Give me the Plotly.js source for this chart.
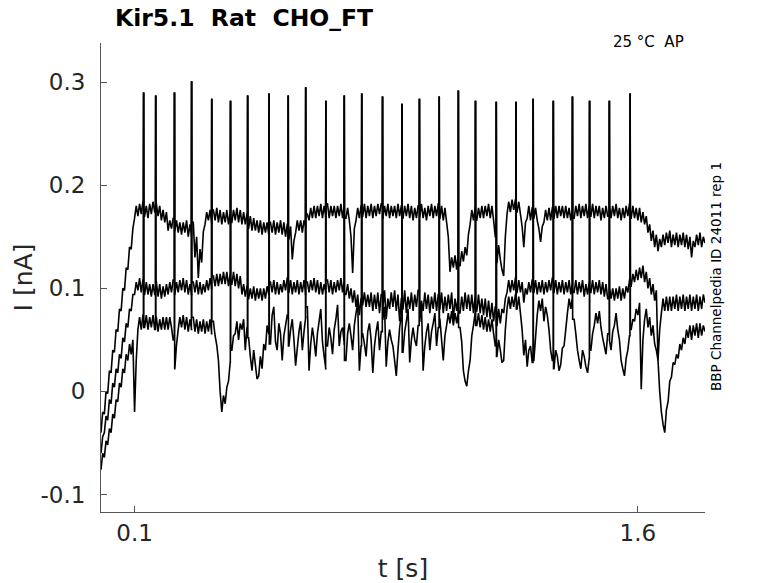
<!DOCTYPE html>
<html>
<head>
<meta charset="utf-8">
<script src="https://cdn.plot.ly/plotly-3.0.1.min.js"></script>
<style>
  html, body { margin: 0; padding: 0; background: #ffffff; }
  #chart { width: 778px; height: 583px; }
</style>
</head>
<body>
<div id="chart"></div>
<script>
// sweeps sampled every 5 ms, t = 0 .. 1.80 s, current in nA (20 samples per row = 0.1 s)
const dt = 0.005;

const sweep1 = [
  -0.040, -0.020, -0.022, 0.000, -0.002, 0.020, 0.018, 0.040, 0.038, 0.060, 0.058, 0.080, 0.078, 0.100, 0.098, 0.120, 0.118, 0.140, 0.138, 0.158,
  0.168, 0.180, 0.170, 0.182, 0.172, 0.184, 0.170, 0.180, 0.168, 0.182, 0.172, 0.184, 0.174, 0.182, 0.170, 0.180, 0.166, 0.176, 0.164, 0.174,
  0.156, 0.166, 0.158, 0.168, 0.156, 0.166, 0.154, 0.164, 0.152, 0.164, 0.154, 0.166, 0.150, 0.162, 0.152, 0.164, 0.130, 0.150, 0.110, 0.138,
  0.125, 0.155, 0.162, 0.174, 0.166, 0.176, 0.164, 0.176, 0.166, 0.178, 0.164, 0.176, 0.162, 0.174, 0.164, 0.176, 0.162, 0.174, 0.164, 0.176,
  0.166, 0.178, 0.164, 0.176, 0.162, 0.174, 0.162, 0.172, 0.158, 0.170, 0.156, 0.168, 0.156, 0.166, 0.154, 0.166, 0.152, 0.164, 0.154, 0.164,
  0.152, 0.164, 0.154, 0.166, 0.152, 0.164, 0.154, 0.166, 0.152, 0.164, 0.150, 0.162, 0.148, 0.160, 0.128, 0.146, 0.154, 0.166, 0.156, 0.166,
  0.154, 0.166, 0.160, 0.172, 0.166, 0.178, 0.168, 0.180, 0.168, 0.180, 0.170, 0.182, 0.168, 0.180, 0.170, 0.182, 0.168, 0.180, 0.170, 0.180,
  0.168, 0.180, 0.170, 0.182, 0.168, 0.180, 0.168, 0.178, 0.166, 0.150, 0.115, 0.158, 0.166, 0.178, 0.168, 0.180, 0.170, 0.182, 0.168, 0.180,
  0.170, 0.182, 0.168, 0.180, 0.170, 0.182, 0.172, 0.182, 0.168, 0.180, 0.170, 0.182, 0.168, 0.180, 0.170, 0.180, 0.168, 0.182, 0.170, 0.180,
  0.168, 0.180, 0.170, 0.182, 0.168, 0.180, 0.166, 0.178, 0.168, 0.180, 0.170, 0.182, 0.168, 0.178, 0.166, 0.180, 0.170, 0.182, 0.168, 0.180,
  0.170, 0.182, 0.168, 0.180, 0.166, 0.178, 0.164, 0.150, 0.116, 0.130, 0.120, 0.132, 0.118, 0.134, 0.122, 0.136, 0.126, 0.140, 0.132, 0.152,
  0.162, 0.176, 0.166, 0.178, 0.166, 0.178, 0.168, 0.180, 0.168, 0.180, 0.170, 0.182, 0.168, 0.180, 0.166, 0.150, 0.125, 0.142, 0.128, 0.118,
  0.112, 0.150, 0.172, 0.184, 0.174, 0.186, 0.176, 0.186, 0.174, 0.184, 0.172, 0.160, 0.140, 0.164, 0.168, 0.180, 0.166, 0.178, 0.168, 0.178,
  0.166, 0.158, 0.145, 0.160, 0.164, 0.176, 0.166, 0.178, 0.166, 0.178, 0.168, 0.180, 0.168, 0.180, 0.170, 0.180, 0.168, 0.180, 0.168, 0.178,
  0.166, 0.178, 0.168, 0.180, 0.170, 0.182, 0.168, 0.180, 0.170, 0.182, 0.168, 0.180, 0.170, 0.182, 0.168, 0.180, 0.170, 0.180, 0.166, 0.178,
  0.168, 0.180, 0.170, 0.182, 0.168, 0.180, 0.170, 0.182, 0.168, 0.178, 0.166, 0.178, 0.168, 0.180, 0.170, 0.182, 0.168, 0.180, 0.168, 0.178,
  0.166, 0.178, 0.164, 0.174, 0.162, 0.170, 0.154, 0.162, 0.146, 0.156, 0.140, 0.152, 0.136, 0.148, 0.140, 0.152, 0.142, 0.154, 0.144, 0.156,
  0.140, 0.152, 0.142, 0.154, 0.140, 0.152, 0.142, 0.154, 0.140, 0.152, 0.138, 0.150, 0.130, 0.146, 0.140, 0.152, 0.142, 0.154, 0.140, 0.150,
  0.144
];

const sweep2 = [
  -0.060, -0.044, -0.040, -0.024, -0.028, -0.008, -0.012, 0.008, 0.004, 0.022, 0.018, 0.036, 0.032, 0.052, 0.048, 0.066, 0.062, 0.080, 0.078, 0.094,
  0.094, 0.106, 0.098, 0.110, 0.096, 0.108, 0.094, 0.106, 0.094, 0.104, 0.092, 0.104, 0.094, 0.106, 0.092, 0.104, 0.090, 0.102, 0.092, 0.104,
  0.094, 0.106, 0.096, 0.108, 0.094, 0.106, 0.096, 0.108, 0.098, 0.110, 0.096, 0.108, 0.094, 0.104, 0.094, 0.106, 0.096, 0.108, 0.094, 0.106,
  0.094, 0.104, 0.096, 0.108, 0.098, 0.110, 0.100, 0.112, 0.102, 0.114, 0.102, 0.114, 0.104, 0.116, 0.104, 0.116, 0.102, 0.114, 0.104, 0.116,
  0.102, 0.114, 0.100, 0.112, 0.094, 0.104, 0.092, 0.102, 0.090, 0.100, 0.090, 0.102, 0.088, 0.100, 0.090, 0.100, 0.088, 0.100, 0.090, 0.102,
  0.094, 0.106, 0.096, 0.108, 0.094, 0.106, 0.094, 0.104, 0.096, 0.108, 0.098, 0.110, 0.096, 0.108, 0.094, 0.106, 0.096, 0.108, 0.094, 0.106,
  0.096, 0.108, 0.094, 0.106, 0.096, 0.108, 0.098, 0.110, 0.096, 0.108, 0.094, 0.106, 0.094, 0.104, 0.096, 0.108, 0.096, 0.108, 0.094, 0.106,
  0.096, 0.108, 0.098, 0.110, 0.096, 0.108, 0.094, 0.104, 0.090, 0.100, 0.086, 0.098, 0.082, 0.094, 0.074, 0.090, 0.084, 0.096, 0.082, 0.094,
  0.082, 0.096, 0.078, 0.094, 0.080, 0.096, 0.076, 0.094, 0.082, 0.098, 0.070, 0.090, 0.080, 0.096, 0.082, 0.098, 0.078, 0.094, 0.068, 0.090,
  0.080, 0.098, 0.076, 0.092, 0.080, 0.096, 0.078, 0.094, 0.082, 0.098, 0.068, 0.088, 0.078, 0.096, 0.080, 0.094, 0.076, 0.092, 0.080, 0.096,
  0.078, 0.094, 0.080, 0.096, 0.076, 0.092, 0.078, 0.094, 0.080, 0.096, 0.070, 0.090, 0.078, 0.094, 0.076, 0.092, 0.078, 0.096, 0.080, 0.094,
  0.078, 0.094, 0.076, 0.092, 0.078, 0.094, 0.076, 0.090, 0.074, 0.090, 0.072, 0.088, 0.070, 0.086, 0.068, 0.082, 0.064, 0.080, 0.066, 0.080,
  0.076, 0.090, 0.096, 0.108, 0.096, 0.108, 0.098, 0.110, 0.096, 0.108, 0.096, 0.106, 0.086, 0.100, 0.094, 0.106, 0.096, 0.108, 0.096, 0.108,
  0.094, 0.106, 0.096, 0.108, 0.094, 0.106, 0.096, 0.108, 0.098, 0.110, 0.096, 0.108, 0.094, 0.106, 0.096, 0.108, 0.094, 0.106, 0.096, 0.108,
  0.094, 0.106, 0.096, 0.108, 0.094, 0.106, 0.096, 0.108, 0.092, 0.104, 0.094, 0.106, 0.096, 0.108, 0.094, 0.106, 0.096, 0.108, 0.094, 0.106,
  0.092, 0.104, 0.090, 0.102, 0.090, 0.100, 0.088, 0.100, 0.090, 0.102, 0.088, 0.100, 0.090, 0.102, 0.096, 0.108, 0.102, 0.114, 0.106, 0.118,
  0.108, 0.120, 0.110, 0.122, 0.106, 0.116, 0.100, 0.110, 0.094, 0.104, 0.088, 0.098, 0.030, 0.060, 0.076, 0.090, 0.078, 0.092, 0.078, 0.092,
  0.078, 0.092, 0.080, 0.094, 0.078, 0.092, 0.080, 0.094, 0.078, 0.092, 0.080, 0.094, 0.078, 0.092, 0.080, 0.094, 0.078, 0.092, 0.080, 0.094,
  0.086
];

const sweep3 = [
  -0.076, -0.060, -0.064, -0.048, -0.052, -0.036, -0.040, -0.022, -0.026, -0.008, -0.010, 0.008, 0.004, 0.022, 0.018, 0.036, 0.030, 0.046, 0.036, 0.050,
  -0.020, 0.030, 0.060, 0.072, 0.060, 0.074, 0.062, 0.074, 0.060, 0.072, 0.062, 0.074, 0.060, 0.072, 0.058, 0.070, 0.060, 0.072, 0.060, 0.072,
  0.060, 0.072, 0.062, 0.050, 0.022, 0.045, 0.060, 0.072, 0.062, 0.074, 0.060, 0.072, 0.058, 0.070, 0.060, 0.072, 0.058, 0.070, 0.056, 0.068,
  0.058, 0.070, 0.056, 0.068, 0.058, 0.070, 0.056, 0.068, 0.054, 0.045, 0.030, 0.000, -0.020, -0.004, -0.012, 0.004, 0.010, 0.028, 0.040, 0.054,
  0.056, 0.068, 0.050, 0.066, 0.060, 0.070, 0.040, 0.062, 0.052, 0.034, 0.020, 0.040, 0.026, 0.012, 0.015, 0.034, 0.022, 0.046, 0.040, 0.064,
  0.056, 0.046, 0.074, 0.082, 0.048, 0.040, 0.066, 0.056, 0.030, 0.054, 0.064, 0.074, 0.044, 0.060, 0.070, 0.050, 0.025, 0.042, 0.058, 0.068,
  0.040, 0.058, 0.072, 0.082, 0.020, 0.046, 0.062, 0.050, 0.034, 0.056, 0.068, 0.080, 0.048, 0.034, 0.022, 0.044, 0.062, 0.052, 0.036, 0.060,
  0.070, 0.084, 0.044, 0.058, 0.062, 0.046, 0.030, 0.056, 0.066, 0.054, 0.040, 0.064, 0.076, 0.086, 0.020, 0.044, 0.056, 0.046, 0.034, 0.058,
  0.066, 0.050, 0.018, 0.044, 0.058, 0.068, 0.040, 0.058, 0.070, 0.082, 0.024, 0.048, 0.060, 0.050, 0.044, 0.030, 0.015, 0.040, 0.062, 0.074,
  0.038, 0.058, 0.068, 0.080, 0.028, 0.050, 0.062, 0.050, 0.044, 0.064, 0.072, 0.084, 0.020, 0.044, 0.058, 0.066, 0.040, 0.058, 0.066, 0.076,
  0.044, 0.062, 0.070, 0.050, 0.030, 0.054, 0.064, 0.076, 0.066, 0.078, 0.064, 0.076, 0.066, 0.078, 0.062, 0.048, 0.020, 0.010, 0.005, 0.020,
  0.030, 0.054, 0.064, 0.076, 0.064, 0.076, 0.062, 0.074, 0.060, 0.072, 0.058, 0.070, 0.058, 0.070, 0.056, 0.044, 0.034, 0.050, 0.040, 0.028,
  0.030, 0.060, 0.080, 0.092, 0.080, 0.092, 0.082, 0.094, 0.080, 0.092, 0.076, 0.060, 0.035, 0.050, 0.024, 0.040, 0.044, 0.028, 0.030, 0.052,
  0.074, 0.088, 0.078, 0.090, 0.068, 0.082, 0.074, 0.060, 0.040, 0.030, 0.022, 0.040, 0.034, 0.020, 0.026, 0.042, 0.044, 0.060, 0.076, 0.090,
  0.080, 0.092, 0.070, 0.056, 0.040, 0.030, 0.022, 0.040, 0.034, 0.024, 0.018, 0.032, 0.040, 0.056, 0.064, 0.076, 0.066, 0.078, 0.062, 0.052,
  0.044, 0.036, 0.056, 0.050, 0.040, 0.058, 0.064, 0.076, 0.060, 0.050, 0.030, 0.022, 0.015, 0.032, 0.040, 0.054, 0.060, 0.070, 0.068, 0.080,
  0.074, 0.086, 0.002, 0.050, 0.070, 0.080, 0.062, 0.072, 0.054, 0.064, 0.046, 0.040, 0.030, 0.000, -0.020, -0.032, -0.040, -0.018, -0.010, 0.010,
  0.014, 0.028, 0.026, 0.036, 0.032, 0.046, 0.040, 0.052, 0.046, 0.060, 0.052, 0.064, 0.050, 0.064, 0.054, 0.066, 0.052, 0.066, 0.054, 0.064,
  0.058
];

// action-potential-clamp spikes: times (s) and peak currents (nA)
const spikeTimes = [
  0.127, 0.163, 0.219, 0.270, 0.330, 0.386, 0.437, 0.501, 0.558, 0.610,
  0.670, 0.725, 0.777, 0.839, 0.897, 0.949, 1.008, 1.065, 1.116, 1.178,
  1.237, 1.288, 1.348, 1.405, 1.456, 1.515, 1.577
];
const spikePeaks = [
  0.290, 0.287, 0.290, 0.301, 0.284, 0.282, 0.287, 0.289, 0.287, 0.295,
  0.282, 0.287, 0.289, 0.286, 0.279, 0.284, 0.286, 0.292, 0.282, 0.281,
  0.281, 0.284, 0.282, 0.286, 0.282, 0.282, 0.289
];

const xTickVals = [0.1, 1.6];
const xTickText = ['0.1', '1.6'];
const yTickVals = [-0.1, 0, 0.1, 0.2, 0.3];
const yTickText = ['-0.1', '0', '0.1', '0.2', '0.3'];

// spikes are drawn as narrow up-down strokes between two samples
function buildSweep(values) {
  const x = [];
  const y = [];
  const w = 0.0006;
  let k = 0;
  for (let i = 0; i < values.length; i++) {
    const t = i * dt;
    while (k < spikeTimes.length && spikeTimes[k] < t) {
      const ts = spikeTimes[k];
      x.push(ts - w, ts, ts + w);
      y.push(values[i - 1], spikePeaks[k], values[i]);
      k++;
    }
    x.push(t);
    y.push(values[i]);
  }
  return { x, y };
}

const traces = [sweep1, sweep2, sweep3].map((s) => {
  const d = buildSweep(s);
  return {
    type: 'scatter',
    mode: 'lines',
    x: d.x,
    y: d.y,
    line: { color: '#000000', width: 1.6, simplify: false },
    hoverinfo: 'skip',
    showlegend: false,
  };
});

const fontFamily = 'DejaVu Sans, sans-serif';
const tickFont = { family: fontFamily, size: 23, color: '#262626' };

const layout = {
  width: 778,
  height: 583,
  paper_bgcolor: '#ffffff',
  plot_bgcolor: '#ffffff',
  margin: { l: 101, r: 73, t: 43, b: 71 },
  showlegend: false,
  title: {
    text: '<b>Kir5.1\u00a0\u00a0Rat\u00a0\u00a0CHO_FT</b>',
    font: { family: fontFamily, size: 23.5, color: '#000000' },
    xref: 'container',
    x: 115 / 778,
    xanchor: 'left',
    yref: 'container',
    y: 1 - 18 / 583,
    yanchor: 'middle',
  },
  xaxis: {
    range: [0, 1.8],
    tickvals: xTickVals,
    ticktext: xTickText,
    ticks: 'inside',
    ticklen: 6,
    tickcolor: '#555555',
    tickfont: tickFont,
    showline: true,
    linecolor: '#555555',
    linewidth: 1,
    showgrid: false,
    zeroline: false,
    title: {
      text: 't [s]',
      font: { family: fontFamily, size: 25, color: '#262626' },
      standoff: 14,
    },
  },
  yaxis: {
    range: [-0.117, 0.338],
    tickvals: yTickVals,
    ticktext: yTickText,
    ticks: 'inside',
    ticklen: 6,
    tickcolor: '#555555',
    tickfont: tickFont,
    ticklabelstandoff: 10,
    showline: true,
    linecolor: '#555555',
    linewidth: 1,
    showgrid: false,
    zeroline: false,
    title: {
      text: 'I [nA]',
      font: { family: fontFamily, size: 25, color: '#262626' },
      standoff: 0,
    },
  },
  annotations: [
    {
      text: '25 °C\u00a0\u00a0AP',
      xref: 'paper', yref: 'paper',
      x: (648 - 101) / 604, y: (512 - 42) / 469,
      xanchor: 'center', yanchor: 'middle',
      showarrow: false,
      font: { family: fontFamily, size: 15, color: '#000000' },
    },
    {
      text: 'BBP Channelpedia ID 24011 rep 1',
      xref: 'paper', yref: 'paper',
      x: (716 - 101) / 604, y: (512 - 277) / 469,
      xanchor: 'center', yanchor: 'middle',
      textangle: -90,
      showarrow: false,
      font: { family: fontFamily, size: 13.5, color: '#000000' },
    },
  ],
};

Plotly.newPlot('chart', traces, layout, { displayModeBar: false, staticPlot: true });
</script>
</body>
</html>
